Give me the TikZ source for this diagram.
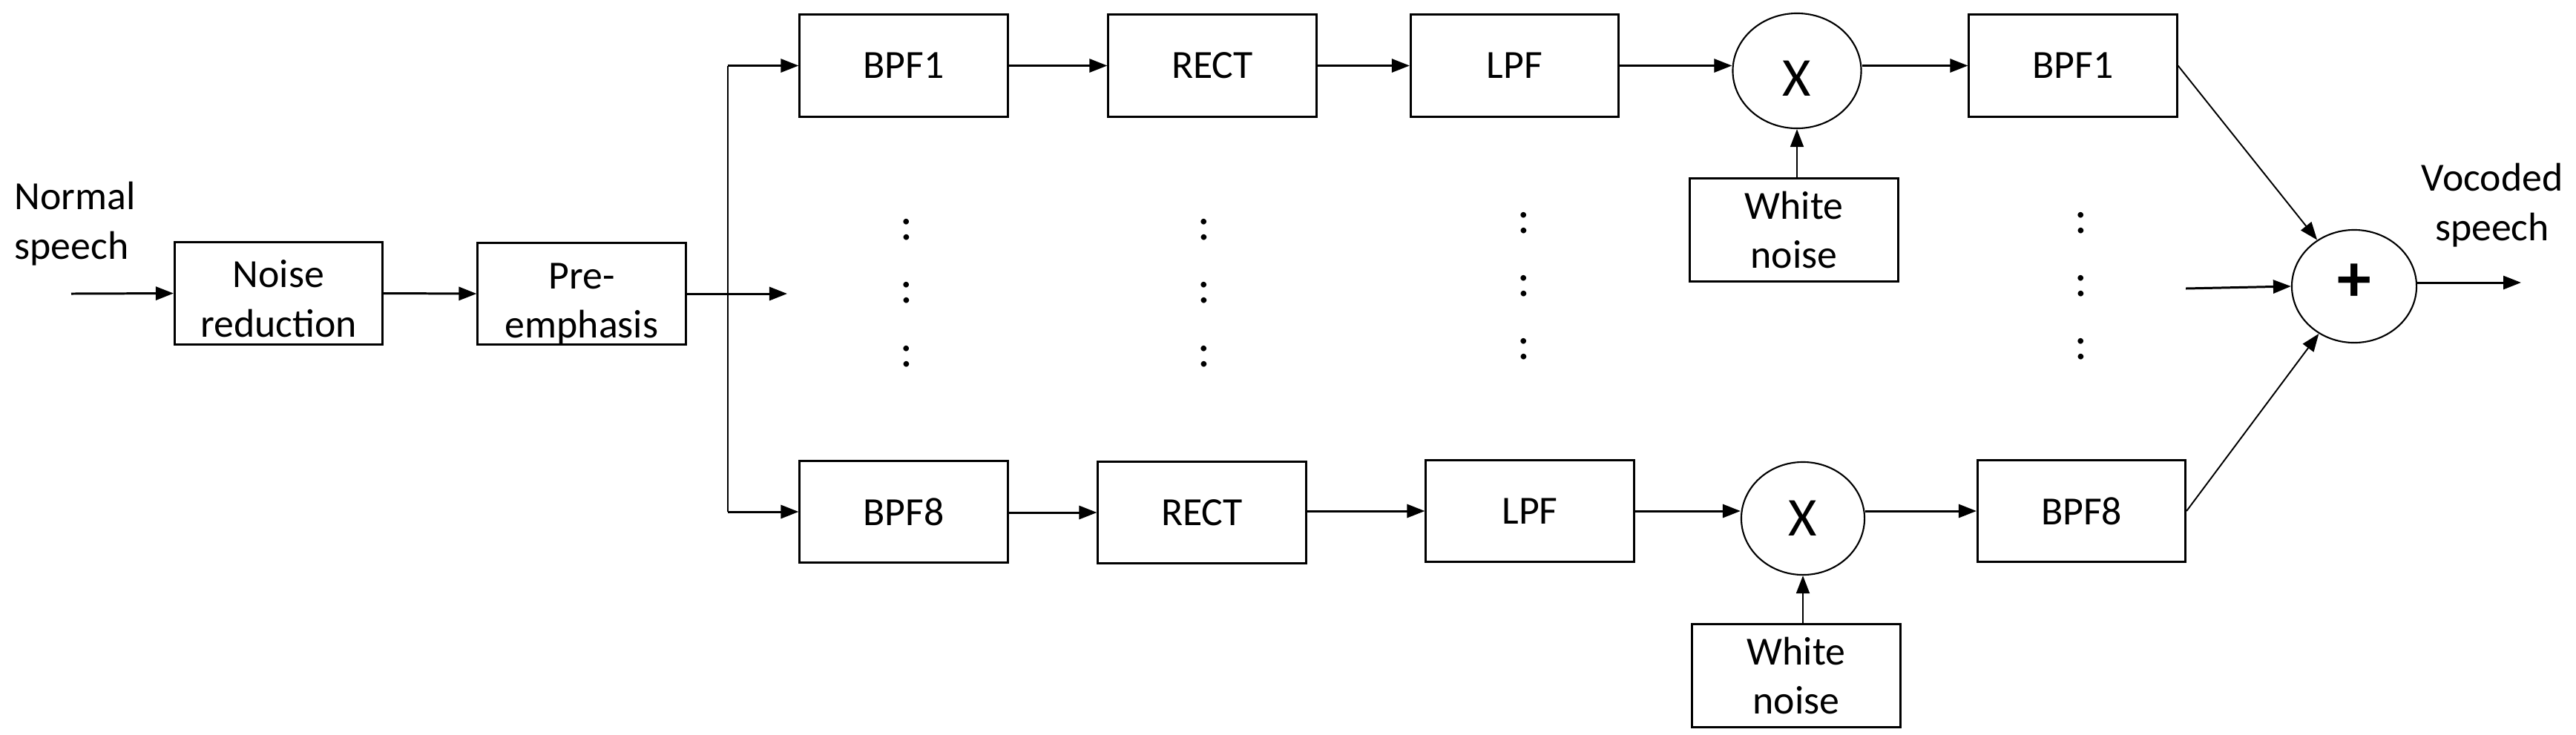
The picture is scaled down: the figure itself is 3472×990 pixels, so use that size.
\documentclass[tikz,border=0pt]{standalone}
\usepackage{fontspec}
\setmainfont{Carlito}
\usetikzlibrary{arrows.meta,shapes.geometric}
\begin{document}
\begin{tikzpicture}[x=0.01cm,y=-0.01cm,
  font=\fontsize{15.3}{19}\selectfont,
  blk/.style={draw,line width=0.85pt,minimum width=2.8cm,minimum height=1.37cm,inner sep=0pt,align=center},
  sumc/.style={draw,ellipse,line width=0.6pt,inner sep=0pt},
  arr/.style={line width=0.85pt,-{Triangle[length=2.4mm,width=1.8mm]}},
  thinarr/.style={line width=0.55pt,-{Triangle[length=2.4mm,width=1.8mm]}},
  wire/.style={line width=0.6pt},
  dotc/.style={font=\fontsize{18}{20}\selectfont,inner sep=0pt},
  lbl/.style={align=center,inner sep=0pt},
  bigx/.style={font=\fontsize{21}{24}\selectfont,inner sep=0pt},
  bigplus/.style={font=\fontsize{26}{28}\selectfont\bfseries,inner sep=0pt}
]
\useasboundingbox (0,0) rectangle (3472,990);

% left chain
\node[blk,label={[lbl,yshift=-0.075cm]center:Noise\\reduction}] (nr) at (375.5,395.5) {};
\node[blk,label={[lbl,yshift=-0.135cm]center:Pre-\\emphasis}] (pre) at (784,396) {};

% top channel
\node[blk] (b1) at (1218,88.5) {BPF1};
\node[blk] (r1) at (1634,88.5) {RECT};
\node[blk] (l1) at (2041.5,88.5) {LPF};
\node[sumc,minimum width=1.73cm,minimum height=1.55cm,label={[bigx,yshift=-0.1cm]center:X}] (x1) at (2422,95.5) {};
\node[blk,minimum height=1.38cm] (w1) at (2418,310) {White\\noise};
\node[blk] (f1) at (2794,88.5) {BPF1};

% bottom channel
\node[blk] (b8) at (1218,690) {BPF8};
\node[blk] (r8) at (1620,691) {RECT};
\node[blk] (l8) at (2062,689) {LPF};
\node[sumc,minimum width=1.66cm,minimum height=1.52cm,label={[bigx]center:X}] (x8) at (2430,699) {};
\node[blk,minimum height=1.38cm] (w8) at (2421,911) {White\\noise};
\node[blk] (f8) at (2805.5,689) {BPF8};

% summer
\node[sumc,minimum width=1.68cm,minimum height=1.52cm,label={[bigplus,yshift=0.05cm]center:+}] (sum) at (3173,386) {};

% texts
\node[lbl,align=left,anchor=west] (ns) at (19,302) {Normal\\speech};
\node[lbl] (vs) at (3359,276.5) {Vocoded\\speech};

% dots
\foreach \xx/\yy/\nn in {1222/310/a1,1222/395/a2,1222/481/a3,
                         1623/310/b1,1623/395/b2,1623/481/b3,
                         2054/301/c1,2054/386/c2,2054/471/c3,
                         2805/301/d1,2805/386/d2,2805/471/d3}
  \node[dotc] (dot\nn) at (\xx,\yy) {:};

% coordinates
\coordinate (in) at (96,396);
\coordinate (split) at (981,396);
\coordinate (mid) at (1061,396);
\coordinate (min) at (2946,389);
\coordinate (out) at (3398,381);

% connectors
\draw[arr] (in) -- (nr.west);
\draw[arr] (nr.east) -- (pre.west);
\draw[arr] (pre.east) -- (mid);
\draw[wire] (split |- b1.west) -- (split |- b8.west);
\draw[arr] (split |- b1.west) -- (b1.west);
\draw[arr] (split |- b8.west) -- (b8.west);

\draw[arr] (b1) -- (r1);
\draw[arr] (r1) -- (l1);
\draw[arr] (l1.east) -- (l1.east -| x1.west);
\draw[thinarr] (x1.south |- w1.north) -- (x1.south);
\draw[arr] (x1.east |- f1.west) -- (f1.west);
\draw[thinarr] (f1.east) -- (sum);

\draw[arr] (b8.east |- r8.west) -- (r8.west);
\draw[arr] (r8.east |- l8.west) -- (l8.west);
\draw[arr] (l8.east) -- (l8.east -| x8.west);
\draw[thinarr] (x8.south |- w8.north) -- (x8.south);
\draw[arr] (x8.east |- f8.west) -- (f8.west);
\draw[thinarr] (f8.east) -- (sum);

\draw[arr] (min) -- (sum.west);
\draw[arr] (sum.east |- out) -- (out);
\end{tikzpicture}
\end{document}
